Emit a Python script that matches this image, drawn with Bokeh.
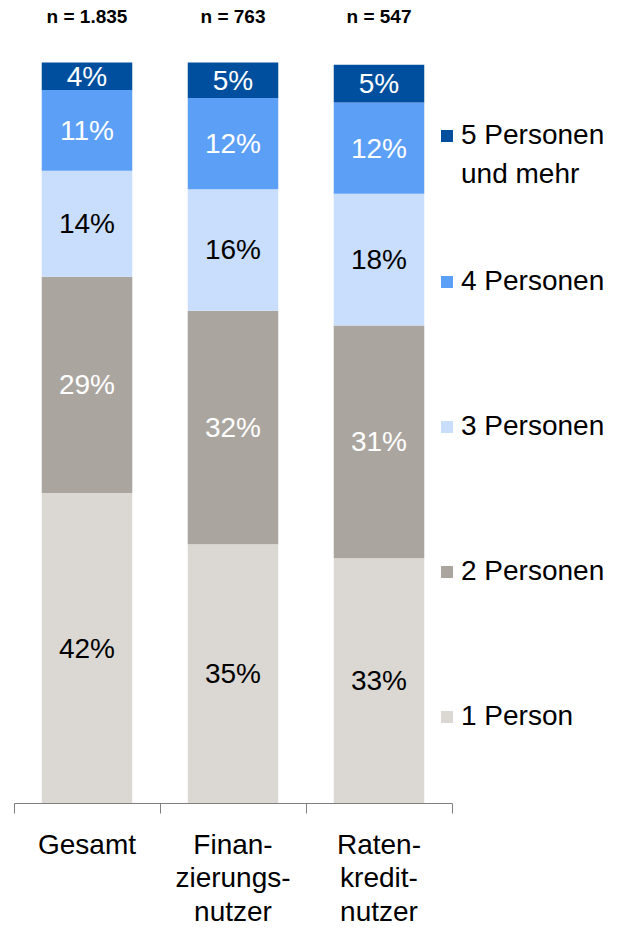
from bokeh.plotting import figure
from bokeh.models import (ColumnDataSource, LinearAxis, FixedTicker, Range1d,
                          Legend, LegendItem)
from bokeh.core.properties import value
from bokeh.embed import file_html
from bokeh.resources import INLINE

# ---------------- data ----------------
categories = ["Gesamt", "Finan-\nzierungs-\nnutzer", "Raten-\nkredit-\nnutzer"]
sample_sizes = ["n = 1.835", "n = 763", "n = 547"]
series_names = ["1 Person", "2 Personen", "3 Personen", "4 Personen",
                "5 Personen"]
series_name_cont = "und mehr"
one_person = [41.9, 35.0, 33.1]
two_persons = [29.2, 31.5, 31.4]
three_persons = [14.3, 16.4, 17.8]
four_persons = [10.9, 12.3, 12.3]
five_plus = [3.7, 4.8, 5.1]

# ---------------- styles ----------------
colors = ["#dbd8d3", "#aaa69f", "#c9defc", "#5c9ff6", "#004f9f"]
label_colors = ["#000000", "#ffffff", "#000000", "#ffffff", "#ffffff"]
FONT = "Liberation Sans"
FS = "28px"

W, H = 628, 932
TOP, BOTTOM = 36, 129
PX_PER_PCT = 7.41
frame_h = H - TOP - BOTTOM
y_end = frame_h / PX_PER_PCT
PX_PER_CAT = 146.0
x_start = -86.5 / PX_PER_CAT
x_end = (W - 86.5) / PX_PER_CAT

series = [one_person, two_persons, three_persons, four_persons, five_plus]
keys = ["s1", "s2", "s3", "s4", "s5"]
xs = list(range(len(categories)))
data = {"x": xs}
for k, s in zip(keys, series):
    data[k] = s
source = ColumnDataSource(data)

p = figure(width=W, height=H, output_backend="svg", toolbar_location=None,
           x_range=Range1d(x_start, x_end), y_range=Range1d(0, y_end),
           x_axis_location=None, y_axis_location=None,
           min_border_left=0, min_border_right=0,
           min_border_top=TOP, min_border_bottom=BOTTOM)
p.outline_line_color = None
p.xgrid.visible = False
p.ygrid.visible = False
p.background_fill_color = "white"

renderers = p.vbar_stack(keys, x="x", width=0.62, color=colors,
                         line_color=None, source=source)

# percentage labels
lx, ly, lt, lc = [], [], [], []
for i in xs:
    base = 0.0
    for j, s in enumerate(series):
        v = s[i]
        lx.append(i)
        ly.append(base + v / 2)
        lt.append(f"{round(v)}%")
        lc.append(label_colors[j])
        base += v
lsrc = ColumnDataSource(dict(x=lx, y=ly, text=lt, color=lc))
p.text(x="x", y="y", text="text", text_color="color", source=lsrc,
       text_font=value(FONT), text_font_size=value(FS),
       text_align="center", text_baseline="middle")

# bottom axis: category names, divider ticks
xa = LinearAxis(ticker=FixedTicker(ticks=xs, minor_ticks=[-0.5, 0.5, 1.5, 2.5]),
                bounds=(-0.5, 2.5))
xa.major_label_overrides = {i: c for i, c in zip(xs, categories)}
xa.axis_line_color = "#7f7f7f"
xa.axis_line_width = 1
xa.major_tick_line_color = None
xa.major_tick_out = 0
xa.major_tick_in = 0
xa.minor_tick_line_color = "#7f7f7f"
xa.minor_tick_out = 10
xa.minor_tick_in = 0
xa.major_label_standoff = 15
xa.major_label_text_font = FONT
xa.major_label_text_font_size = FS
xa.major_label_text_color = "#000000"
xa.major_label_text_line_height = 1.09
p.add_layout(xa, "below")

# top axis: sample sizes
ta = LinearAxis(ticker=FixedTicker(ticks=xs, minor_ticks=[]))
ta.major_label_overrides = {i: n for i, n in zip(xs, sample_sizes)}
ta.axis_line_color = None
ta.major_tick_line_color = None
ta.minor_tick_line_color = None
ta.major_tick_out = 0
ta.major_tick_in = 0
ta.major_label_standoff = 10
ta.major_label_text_font = FONT
ta.major_label_text_font_style = "bold"
ta.major_label_text_font_size = "19px"
ta.major_label_text_color = "#000000"
p.add_layout(ta, "above")


def style_legend(lg, spacing):
    lg.glyph_width = 15
    lg.glyph_height = 15
    lg.label_standoff = 7
    lg.label_text_font = FONT
    lg.label_text_font_size = FS
    lg.label_text_color = "#000000"
    lg.spacing = spacing
    lg.padding = 0
    lg.margin = 0
    lg.border_line_color = None
    lg.background_fill_alpha = 0


# legend for the four lower series
items = [LegendItem(label=series_names[j], renderers=[renderers[j]])
         for j in reversed(range(len(series_names) - 1))]
legend = Legend(items=items, location=(439, 71))
style_legend(legend, 113)
p.add_layout(legend, "center")

# legend for the top series (label on two lines)
blank = p.vbar(x=[], top=[], width=0, fill_alpha=0, line_alpha=0)
items_top = [LegendItem(label=series_names[4], renderers=[renderers[4]]),
             LegendItem(label=series_name_cont, renderers=[blank])]
legend_top = Legend(items=items_top, location=(439, 613))
style_legend(legend_top, 7)
p.add_layout(legend_top, "center")

open("out.html", "w").write(file_html(p, INLINE))
